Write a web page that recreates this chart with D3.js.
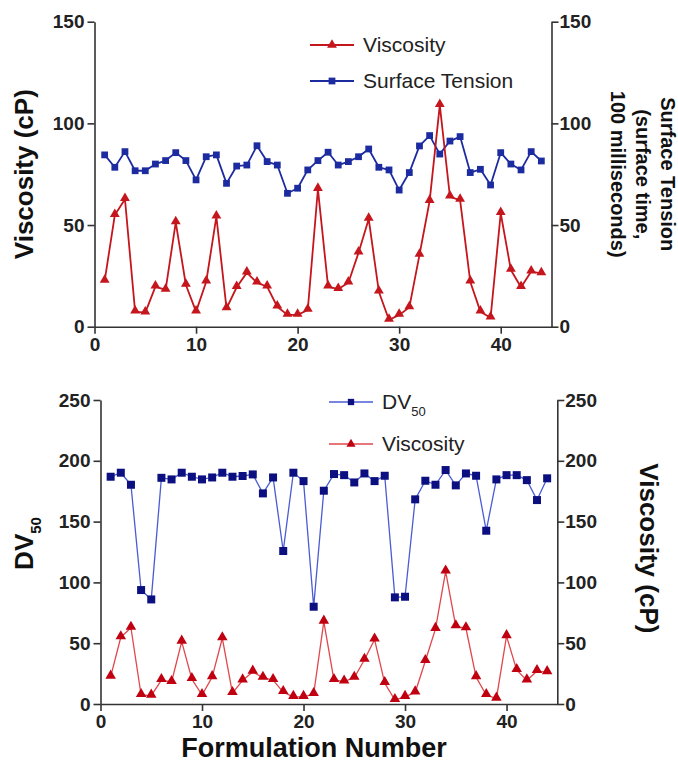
<!DOCTYPE html>
<html>
<head>
<meta charset="utf-8">
<script src="https://cdn.jsdelivr.net/npm/d3@7"></script>
<style>
  html, body { margin: 0; padding: 0; background: #fff; }
  svg { display: block; font-family: "Liberation Sans", Arial, sans-serif; }
</style>
</head>
<body>
<svg id="chart" width="678" height="770"></svg>
<script>
// Formulation numbers 1..44
const formulation = [1,2,3,4,5,6,7,8,9,10,11,12,13,14,15,16,17,18,19,20,21,22,
  23,24,25,26,27,28,29,30,31,32,33,34,35,36,37,38,39,40,41,42,43,44];

// Viscosity (cP) of each formulation
const viscosity = [22.5,54.9,62.7,7.4,6.9,19.7,18.1,51.3,20.5,7.4,22.1,54.1,9.0,19.4,26.6,21.6,
  19.7,9.8,5.8,5.8,8.2,67.7,19.7,18.5,21.6,36.4,53.0,17.2,3.3,5.8,9.5,35.3,61.8,109.0,
  63.9,62.3,22.1,7.4,4.4,55.8,27.9,19.4,27.1,26.2];

// Surface tension (surface time, 100 milliseconds)
const surfaceTension = [84.5,78.4,86.1,76.7,76.7,80.0,81.7,85.6,81.7,72.2,83.6,84.5,70.5,79.0,
  79.5,89.0,81.2,79.5,65.6,68.1,77.1,81.7,85.8,79.5,81.2,83.6,87.4,78.4,77.1,67.2,75.8,
  88.9,94.0,84.9,91.3,93.5,75.8,77.4,69.7,85.6,80.0,77.1,86.1,81.5];

// DV50 droplet size
const dv50 = [186.9,190.2,180.3,93.7,86.0,186.0,184.7,190.2,186.9,184.7,186.3,190.2,186.9,
  187.5,188.8,173.2,186.3,125.8,190.2,183.3,80.0,175.4,189.1,188.2,182.2,189.6,183.3,
  187.7,87.7,88.2,168.3,183.6,180.3,192.4,179.8,189.6,187.7,142.5,184.7,188.2,188.2,
  184.1,167.7,185.6];

const xTicks = [0, 10, 20, 30, 40];
const topYTicks = [0, 50, 100, 150];
const bottomYTicks = [0, 50, 100, 150, 200, 250];

const svg = d3.select("#chart");
const axisColor = "#333";
const tickFont = "bold 19px 'Liberation Sans', Arial, sans-serif";

function styleAxis(g) {
  g.select(".domain").attr("stroke", axisColor).attr("stroke-width", 1.6);
  g.selectAll(".tick line").attr("stroke", axisColor).attr("stroke-width", 1.6);
  g.selectAll(".tick text")
    .attr("fill", "#222")
    .style("font", tickFont);
}

function drawSeries(g, x, y, values, opt) {
  const pts = formulation.map((f, i) => [f, values[i]]);
  g.append("path")
    .datum(pts)
    .attr("fill", "none")
    .attr("stroke", opt.line)
    .attr("stroke-width", opt.width)
    .attr("stroke-linejoin", "round")
    .attr("d", d3.line().x(d => x(d[0])).y(d => y(d[1])));
  const sym = d3.symbol().type(opt.shape).size(opt.size);
  g.selectAll(null)
    .data(pts)
    .join("path")
    .attr("d", sym)
    .attr("transform", d => `translate(${x(d[0])},${y(d[1]) + (opt.shape === d3.symbolTriangle ? -1 : 0)})`)
    .attr("fill", opt.marker);
}

function legendItem(x0, y0, opt, label, sub) {
  const g = svg.append("g");
  g.append("line")
    .attr("x1", x0).attr("x2", x0 + 44)
    .attr("y1", y0).attr("y2", y0)
    .attr("stroke", opt.line).attr("stroke-width", opt.width);
  g.append("path")
    .attr("d", d3.symbol().type(opt.shape).size(opt.legendSize || opt.size)())
    .attr("transform", `translate(${x0 + 22},${y0})`)
    .attr("fill", opt.marker);
  const t = g.append("text")
    .attr("x", x0 + 53).attr("y", y0 + 7)
    .attr("fill", "#222")
    .style("font", "21px 'Liberation Sans', Arial, sans-serif")
    .text(label);
  if (sub) {
    t.append("tspan").attr("dy", 7).style("font-size", "13px").text(sub);
  }
}

// ---------- Upper panel: viscosity and surface tension ----------
{
  const x = d3.scaleLinear().domain([0, 45]).range([94.5, 551.5]);
  const y = d3.scaleLinear().domain([0, 150]).range([326.7, 21.7]);

  svg.append("g").attr("transform", "translate(0,326.7)")
    .call(d3.axisBottom(x).tickValues(xTicks).tickSize(7).tickSizeOuter(0).tickPadding(4))
    .call(styleAxis);
  svg.append("g").attr("transform", "translate(94.5,0)")
    .call(d3.axisLeft(y).tickValues(topYTicks).tickSize(7).tickSizeOuter(0).tickPadding(3))
    .call(styleAxis);
  svg.append("g").attr("transform", "translate(551.5,0)")
    .call(d3.axisRight(y).tickValues(topYTicks).tickSize(7).tickSizeOuter(0).tickPadding(1))
    .call(styleAxis);

  const red = { line: "#c4161c", marker: "#c4161c", width: 1.8, shape: d3.symbolTriangle, size: 42 };
  const blue = { line: "#1c2ca0", marker: "#1c2ca0", width: 1.8, shape: d3.symbolSquare, size: 46 };
  const g = svg.append("g");
  drawSeries(g, x, y, surfaceTension, blue);
  drawSeries(g, x, y, viscosity, red);

  legendItem(310, 45, red, "Viscosity");
  legendItem(310, 81, blue, "Surface Tension");

  svg.append("text")
    .attr("transform", `translate(33,${y(75)}) rotate(-90)`)
    .attr("text-anchor", "middle")
    .attr("fill", "#111")
    .style("font", "bold 26px 'Liberation Sans', Arial, sans-serif")
    .text("Viscosity (cP)");

  const rightTitle = ["Surface Tension", "(surface time,", "100 milliseconds)"];
  const rt = svg.append("text")
    .attr("transform", `translate(661,${y(75)}) rotate(90)`)
    .attr("text-anchor", "middle")
    .attr("fill", "#111")
    .style("font", "bold 20px 'Liberation Sans', Arial, sans-serif");
  rightTitle.forEach((s, i) => {
    rt.append("tspan").attr("x", 0).attr("y", i * 25).text(s);
  });
}

// ---------- Lower panel: DV50 and viscosity ----------
{
  const x = d3.scaleLinear().domain([0, 45]).range([100.5, 557.3]);
  const y = d3.scaleLinear().domain([0, 250]).range([704, 400]);

  svg.append("g").attr("transform", "translate(0,704)")
    .call(d3.axisBottom(x).tickValues(xTicks).tickSize(7).tickSizeOuter(0).tickPadding(4))
    .call(styleAxis);
  svg.append("g").attr("transform", "translate(100.5,0)")
    .call(d3.axisLeft(y).tickValues(bottomYTicks).tickSize(7).tickSizeOuter(0).tickPadding(3))
    .call(styleAxis);
  svg.append("g").attr("transform", "translate(557.3,0)")
    .call(d3.axisRight(y).tickValues(bottomYTicks).tickSize(7).tickSizeOuter(0).tickPadding(1))
    .call(styleAxis);

  const blue = { line: "#4a5cd4", marker: "#0b0f80", width: 1.3, shape: d3.symbolSquare, size: 64, legendSize: 40 };
  const red = { line: "#e0474c", marker: "#c00010", width: 1.3, shape: d3.symbolTriangle, size: 48, legendSize: 36 };
  const g = svg.append("g");
  drawSeries(g, x, y, dv50, blue);
  drawSeries(g, x, y, viscosity, red);

  legendItem(329, 402, blue, "DV", "50");
  legendItem(329, 444, red, "Viscosity");

  const dv = svg.append("text")
    .attr("transform", `translate(33,${y(132)}) rotate(-90)`)
    .attr("text-anchor", "middle")
    .attr("fill", "#111")
    .style("font", "bold 26px 'Liberation Sans', Arial, sans-serif");
  dv.append("tspan").text("DV");
  dv.append("tspan").attr("dy", 8).style("font-size", "15px").text("50");

  svg.append("text")
    .attr("transform", `translate(640,${y(128)}) rotate(90)`)
    .attr("text-anchor", "middle")
    .attr("fill", "#111")
    .style("font", "bold 26px 'Liberation Sans', Arial, sans-serif")
    .text("Viscosity (cP)");

  svg.append("text")
    .attr("x", 314).attr("y", 757)
    .attr("text-anchor", "middle")
    .attr("fill", "#111")
    .style("font", "bold 27px 'Liberation Sans', Arial, sans-serif")
    .text("Formulation Number");
}
</script>
</body>
</html>
